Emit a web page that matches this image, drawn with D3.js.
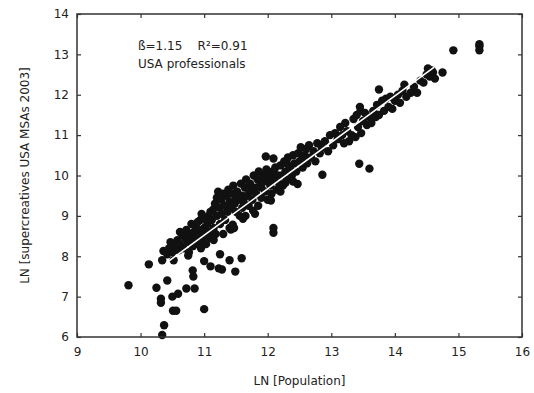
<!DOCTYPE html>
<html>
<head>
<meta charset="utf-8">
<script src="https://cdn.jsdelivr.net/npm/d3@7"></script>
<style>
  body { margin: 0; background: #fff; }
  text { font-family: "DejaVu Sans", sans-serif; fill: #222; }
</style>
</head>
<body>
<script>
// ln(population) vs ln(supercreatives)
const bandPoints = [
  [10.42,8.05],[10.45,8.2],[10.47,8.35],[10.5,8.1],[10.52,7.9],[10.55,8.25],[10.58,8.4],[10.6,8.15],
  [10.62,8.3],[10.62,8.6],[10.65,8.55],[10.67,8.2],[10.7,8.45],[10.72,8.65],[10.74,8.35],[10.76,8.1],[10.78,8.55],[10.8,8.8],[10.8,8.4],[10.82,8.25],
  [10.84,8.6],[10.86,8.75],[10.88,8.45],[10.9,8.3],[10.92,8.65],[10.94,8.9],[10.96,8.55],[10.98,8.4],[11.0,8.7],[11.0,8.95],[11.02,8.5],[11.03,8.3],
  [11.05,8.8],[11.07,9.0],[11.08,8.6],[11.1,8.45],[11.12,8.9],[11.14,9.15],[11.15,8.7],[11.17,9.3],[11.18,8.55],[11.2,9.0],[11.2,9.45],[11.15,8.4],
  [11.22,9.6],[11.24,9.2],[11.25,8.8],[11.27,9.4],[11.28,9.05],[11.3,9.55],[11.32,9.25],[11.33,8.9],[11.35,9.5],[11.37,9.1],[11.38,9.65],[11.4,9.35],[11.4,8.7],
  [11.42,9.2],[11.44,9.55],[11.46,9.75],[11.48,9.3],[11.5,9.1],[11.52,9.6],[11.54,9.4],[11.56,9.0],[11.58,9.8],[11.6,9.5],[11.6,9.2],[11.61,8.93],
  [11.62,9.35],[11.64,9.7],[11.66,9.9],[11.68,9.5],[11.7,9.25],[11.72,9.8],[11.74,9.6],[11.76,9.4],[11.78,10.0],[11.8,9.7],[11.8,9.05],[11.77,9.13],
  [11.82,9.55],[11.84,9.9],[11.86,10.1],[11.88,9.75],[11.9,9.45],[11.92,10.0],[11.94,9.85],[11.96,9.6],[11.98,10.15],[12.0,9.9],[12.0,9.4],
  [12.02,10.05],[12.04,9.75],[12.06,9.55],[12.08,10.1],[12.1,9.9],[12.12,10.2],[12.14,9.65],[12.16,10.0],[12.18,9.8],[12.2,10.25],[12.09,10.42],
  [12.22,10.0],[12.24,9.75],[12.26,10.35],[12.28,10.1],[12.28,9.82],[12.3,9.9],[12.32,10.45],[12.35,10.2],[12.38,10.0],[12.4,10.5],
  [12.42,10.3],[12.45,10.1],[12.48,10.55],[12.5,10.35],[12.52,10.7],[12.55,10.2],[12.58,10.5],[12.6,10.65],[12.62,10.3],[12.65,10.75],[12.68,10.45],
  [12.72,10.6],[12.75,10.35],[12.78,10.8],[12.82,10.55],[12.85,10.7],[12.9,10.85],[12.95,10.6],[12.98,11.0],
  [13.03,10.75],[13.06,11.05],[13.1,10.9],[13.14,11.2],[13.17,11.0],[13.2,10.8],[13.22,11.3],[13.25,11.1],[13.28,10.85],
  [13.32,11.0],[13.35,11.4],[13.38,10.95],[13.4,11.5],[13.42,11.2],[13.45,11.7],[13.46,11.6],[13.47,11.05],[13.5,11.35],[13.53,11.55],[13.56,11.25],[13.6,11.45],
  [13.63,11.3],[13.66,11.6],[13.7,11.45],[13.72,11.75],[13.75,11.5],[13.8,11.85],[13.83,11.6],[13.86,11.9],[13.9,11.7],[13.93,11.95],[13.96,11.65],[14.0,11.85],
  [14.05,12.0],[14.08,11.8],[14.12,12.1],[14.18,11.95],[14.25,12.05],[14.3,12.2],[14.35,12.05],[14.4,12.35],[14.45,12.3],[14.5,12.5],[14.52,12.65],[14.55,12.45],[14.6,12.55],[14.63,12.4],
  [10.75,8.02],[10.95,8.2],[11.3,8.55],[11.45,8.78],[11.65,9.0],[11.85,9.25],[12.05,9.38],[12.2,9.6],[12.4,9.85],
  [10.9,8.85],[11.1,9.1],[11.25,9.5],[11.5,9.45],[11.7,9.65],[11.9,9.7],[12.1,10.05],[12.3,10.3],[12.55,10.45]
];

const lowPoints = [
  [9.81,7.28],[10.13,7.8],[10.25,7.22],[10.32,6.95],[10.32,6.85],[10.37,6.29],[10.34,6.05],[10.34,7.9],[10.36,8.13],
  [10.42,7.4],[10.5,7.0],[10.59,7.07],[10.51,6.65],[10.56,6.65],[10.72,7.2],[10.85,7.2],[10.82,7.65],[10.83,7.5],
  [11.0,7.88],[11.0,6.69],[11.1,7.75],[11.23,7.7],[11.28,7.67],[11.25,8.05],[11.4,7.9],[11.49,7.62],[11.59,7.95],
  [11.42,8.66],[11.47,8.7],[12.09,8.7],[12.09,8.58],[10.96,9.05],[11.97,10.47],[12.86,10.02],[13.44,10.29],[13.6,10.17],[12.47,9.79]
];

const topPoints = [
  [13.75,12.13],[14.15,12.25],[14.58,12.6],[14.75,12.55],[14.92,13.1],[15.33,13.2],[15.33,13.1],[15.33,13.25]
];

const xTicks = [9, 10, 11, 12, 13, 14, 15, 16];
const yTicks = [6, 7, 8, 9, 10, 11, 12, 13, 14];
const fitSlope = 1.15;
const fitIntercept = -4.13;
const fitRange = [10.41, 14.62];

(function() {
    const width = 534;
    const height = 393;
    const margin = {top: 14, right: 12, bottom: 56, left: 77};

    const svg = d3.select("body").append("svg")
        .attr("width", width)
        .attr("height", height);

    const x = d3.scaleLinear().domain([9, 16]).range([margin.left, width - margin.right]);
    const y = d3.scaleLinear().domain([6, 14]).range([height - margin.bottom, margin.top]);

    // points
    const allPoints = bandPoints.concat(lowPoints, topPoints);
    svg.append("g")
        .selectAll("circle")
        .data(allPoints)
        .enter()
        .append("circle")
        .attr("cx", d => x(d[0]))
        .attr("cy", d => y(d[1]))
        .attr("r", 4.2)
        .style("fill", "#111");

    // regression line in white on top of the cloud
    svg.append("line")
        .attr("x1", x(fitRange[0]))
        .attr("y1", y(fitSlope * fitRange[0] + fitIntercept))
        .attr("x2", x(fitRange[1]))
        .attr("y2", y(fitSlope * fitRange[1] + fitIntercept))
        .style("stroke", "#fff")
        .style("stroke-width", 1.6);

    // axes with inward ticks
    const xAxis = d3.axisBottom(x).tickValues(xTicks).tickFormat(d3.format("d"))
        .tickSizeInner(-4).tickSizeOuter(0).tickPadding(10);
    const yAxis = d3.axisLeft(y).tickValues(yTicks).tickFormat(d3.format("d"))
        .tickSizeInner(-4).tickSizeOuter(0).tickPadding(8);

    svg.append("g")
        .attr("transform", "translate(0," + (height - margin.bottom) + ")")
        .call(xAxis);
    svg.append("g")
        .attr("transform", "translate(" + margin.left + ",0)")
        .call(yAxis);

    svg.append("g")
        .attr("transform", "translate(0," + margin.top + ")")
        .call(d3.axisTop(x).tickValues(xTicks).tickSizeInner(-4).tickSizeOuter(0).tickFormat(""));
    svg.append("g")
        .attr("transform", "translate(" + (width - margin.right) + ",0)")
        .call(d3.axisRight(y).tickValues(yTicks).tickSizeInner(-4).tickSizeOuter(0).tickFormat(""));

    svg.selectAll(".domain").remove();
    svg.selectAll(".tick line").style("stroke", "#333").style("stroke-width", 1.2);
    svg.selectAll(".tick text").style("font-size", "12px").style("fill", "#222");

    // frame
    svg.append("rect")
        .attr("x", margin.left)
        .attr("y", margin.top)
        .attr("width", width - margin.left - margin.right)
        .attr("height", height - margin.top - margin.bottom)
        .style("fill", "none")
        .style("stroke", "#333")
        .style("stroke-width", 1.5);

    // annotation
    svg.append("text")
        .attr("x", 138)
        .attr("y", 50)
        .style("font-size", "12px")
        .style("white-space", "pre")
        .text("ß=1.15    R²=0.91");
    svg.append("text")
        .attr("x", 138)
        .attr("y", 68)
        .style("font-size", "12px")
        .text("USA professionals");

    // axis titles
    svg.append("text")
        .attr("x", x(12.5))
        .attr("y", 385)
        .attr("text-anchor", "middle")
        .style("font-size", "12px")
        .text("LN [Population]");
    svg.append("text")
        .attr("transform", "translate(29," + y(10) + ") rotate(-90)")
        .attr("text-anchor", "middle")
        .style("font-size", "12px")
        .text("LN [supercreatives USA MSAs 2003]");
})();
</script>
</body>
</html>
